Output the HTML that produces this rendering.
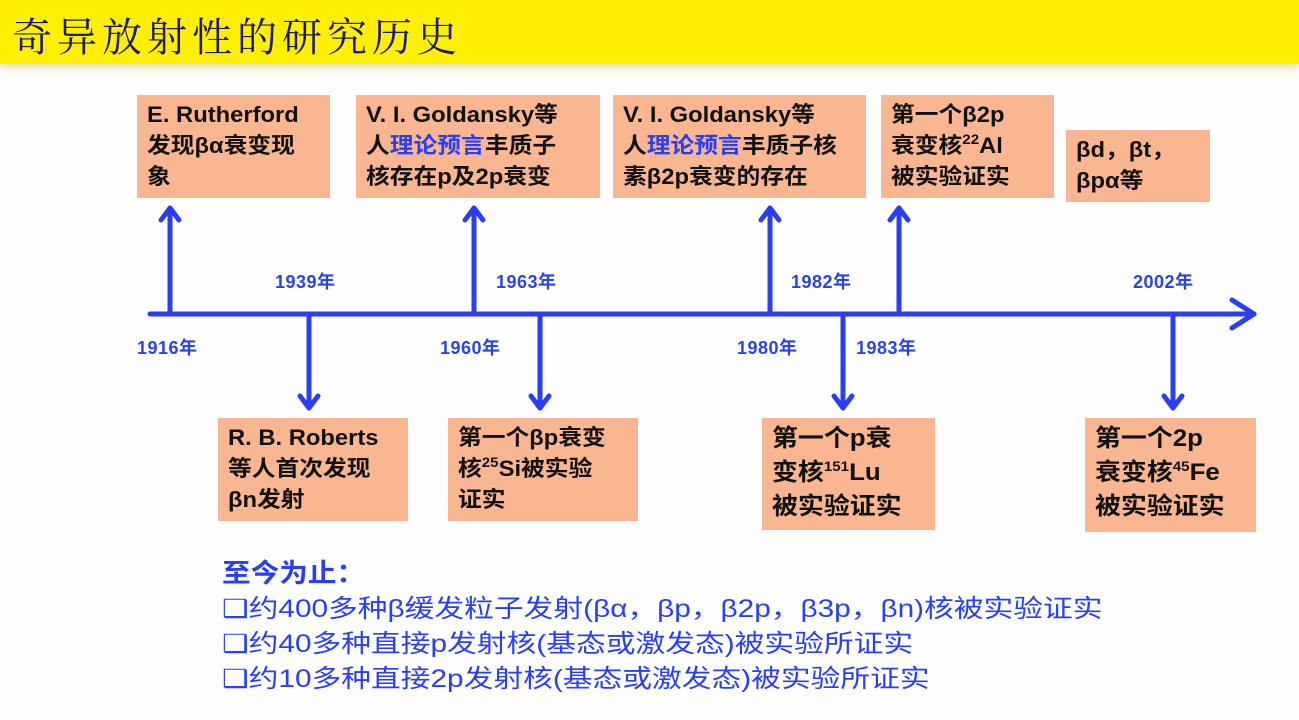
<!DOCTYPE html>
<html><head><meta charset="utf-8"><style>
body{margin:0;width:1299px;height:720px;overflow:hidden;background:#fdfdfd;font-family:"Liberation Sans","Noto Sans CJK SC",sans-serif;position:relative}
.hdr{position:absolute;left:0;top:0;width:1299px;height:64px;background:#ffef00;box-shadow:0 4px 8px #e8e0a0}
.title{position:absolute;left:12px;top:6px;font-family:"Noto Serif CJK SC","Liberation Serif",serif;font-size:40px;color:#1a1a60;letter-spacing:5px}
.b{position:absolute;background:#f9b690;color:#111;font-weight:bold;font-size:22px;line-height:31px;padding:4px 0 0 10px;box-sizing:border-box;white-space:nowrap}
.b span.w{display:inline-block;transform:scaleX(1.08);transform-origin:left}
.bl{color:#2a40f0}
sup{font-size:14px;vertical-align:9px;line-height:0}
.y{position:absolute;color:#2a45e0;font-weight:bold;font-size:18px;letter-spacing:0.5px}
.t{position:absolute;left:222px;color:#2a40f0;font-size:25px;line-height:34px;white-space:nowrap;transform:scaleX(1.19);transform-origin:left}
</style></head><body>
<div class="hdr"></div>
<div class="title">奇异放射性的研究历史</div>
<svg style="position:absolute;left:0;top:0" width="1299" height="720">
<g stroke="#2a40f0" stroke-width="5" fill="none" stroke-linecap="round" stroke-linejoin="round">
<line x1="150" y1="314" x2="1254" y2="314"/>
<polyline points="1232,300 1254,314 1232,328"/>
<line x1="170" y1="314" x2="170" y2="208"/><polyline points="161,220 170,208 179,220"/>
<line x1="474" y1="314" x2="474" y2="208"/><polyline points="465,220 474,208 483,220"/>
<line x1="770" y1="314" x2="770" y2="208"/><polyline points="761,220 770,208 779,220"/>
<line x1="899" y1="314" x2="899" y2="208"/><polyline points="890,220 899,208 908,220"/>
<line x1="309" y1="314" x2="309" y2="408"/><polyline points="300,396 309,408 318,396"/>
<line x1="540" y1="314" x2="540" y2="408"/><polyline points="531,396 540,408 549,396"/>
<line x1="843" y1="314" x2="843" y2="408"/><polyline points="834,396 843,408 852,396"/>
<line x1="1173" y1="314" x2="1173" y2="408"/><polyline points="1164,396 1173,408 1182,396"/>
</g></svg>
<div class="b" style="left:137px;top:95px;width:193px;height:103px"><span class="w">E. Rutherford<br>发现βα衰变现<br>象</span></div>
<div class="b" style="left:356px;top:95px;width:244px;height:103px"><span class="w">V. I. Goldansky等<br>人<span class="bl">理论预言</span>丰质子<br>核存在p及2p衰变</span></div>
<div class="b" style="left:613px;top:95px;width:253px;height:103px"><span class="w">V. I. Goldansky等<br>人<span class="bl">理论预言</span>丰质子核<br>素β2p衰变的存在</span></div>
<div class="b" style="left:881px;top:95px;width:173px;height:103px"><span class="w">第一个β2p<br>衰变核<sup>22</sup>Al<br>被实验证实</span></div>
<div class="b" style="left:1066px;top:130px;width:144px;height:72px"><span class="w">βd，βt，<br>βpα等</span></div>
<div class="b" style="left:218px;top:418px;width:190px;height:103px"><span class="w">R. B. Roberts<br>等人首次发现<br>βn发射</span></div>
<div class="b" style="left:448px;top:418px;width:190px;height:103px"><span class="w">第一个βp衰变<br>核<sup>25</sup>Si被实验<br>证实</span></div>
<div class="b" style="left:762px;top:418px;width:173px;height:112px;font-size:24px;line-height:34px"><span class="w">第一个p衰<br>变核<sup>151</sup>Lu<br>被实验证实</span></div>
<div class="b" style="left:1085px;top:418px;width:171px;height:114px;font-size:24px;line-height:34px"><span class="w">第一个2p<br>衰变核<sup>45</sup>Fe<br>被实验证实</span></div>
<div class="y" style="left:137px;top:334px">1916年</div>
<div class="y" style="left:275px;top:268px">1939年</div>
<div class="y" style="left:440px;top:334px">1960年</div>
<div class="y" style="left:496px;top:268px">1963年</div>
<div class="y" style="left:737px;top:334px">1980年</div>
<div class="y" style="left:791px;top:268px">1982年</div>
<div class="y" style="left:856px;top:334px">1983年</div>
<div class="y" style="left:1133px;top:268px">2002年</div>
<div class="t" style="top:556px;font-weight:bold;font-size:26px;transform:scaleX(1.1)">至今为止：</div>
<div class="t" style="top:592px">❑约400多种β缓发粒子发射(βα，βp，β2p，β3p，βn)核被实验证实</div>
<div class="t" style="top:627px">❑约40多种直接p发射核(基态或激发态)被实验所证实</div>
<div class="t" style="top:662px">❑约10多种直接2p发射核(基态或激发态)被实验所证实</div>
</body></html>
